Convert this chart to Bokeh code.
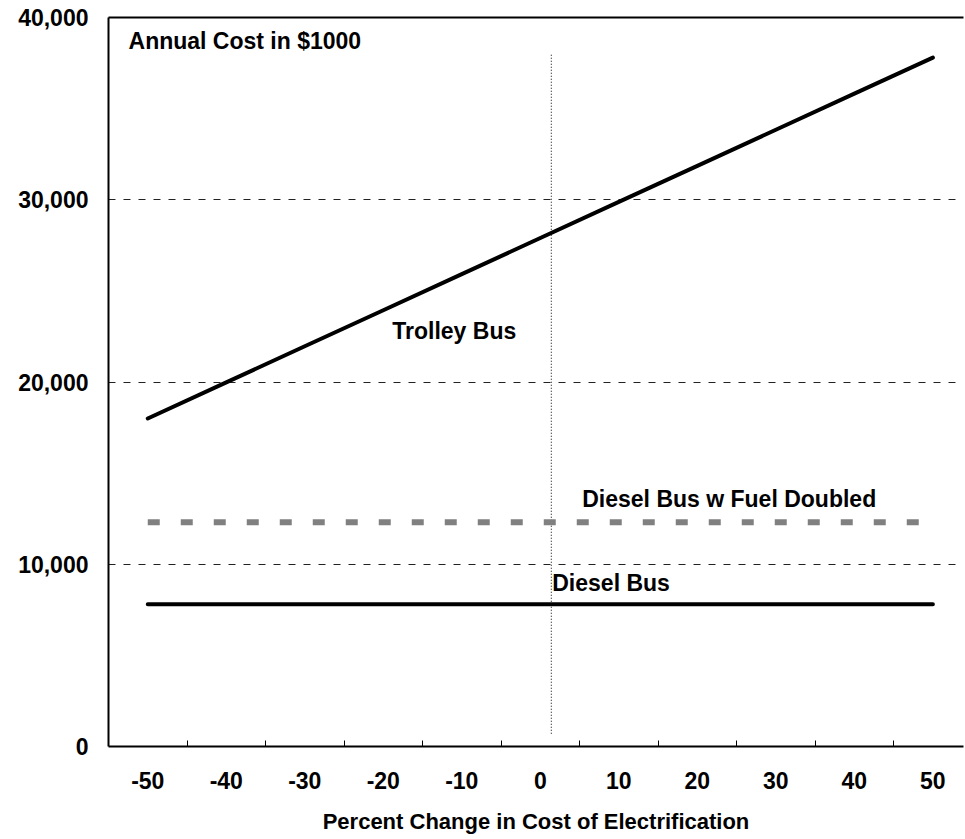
from bokeh.plotting import figure
from bokeh.models import Range1d, FixedTicker, LinearAxis, NumeralTickFormatter
from bokeh.core.properties import value
from bokeh.embed import file_html
from bokeh.resources import INLINE

# ---- data ----
pct_change = [-50, -40, -30, -20, -10, 0, 10, 20, 30, 40, 50]
trolley_bus = [18000, 19980, 21960, 23940, 25920, 27900, 29880, 31860, 33840, 35820, 37800]
diesel_bus = [7800, 7800, 7800, 7800, 7800, 7800, 7800, 7800, 7800, 7800, 7800]
diesel_fuel_doubled = [12300, 12300, 12300, 12300, 12300, 12300, 12300, 12300, 12300, 12300, 12300]
pct_labels = ["-50", "-40", "-30", "-20", "-10", "0", "10", "20", "30", "40", "50"]
y_ticks = [0, 10000, 20000, 30000, 40000]
grid_values = [10000, 20000, 30000]
reference_pct = 1.4
reference_span = [700, 38000]

FONT = value("Liberation Sans")

p = figure(width=965, height=839,
           x_range=Range1d(-55, 53.9), y_range=Range1d(0, 40000),
           output_backend="svg", toolbar_location=None,
           min_border_left=108, min_border_right=2,
           min_border_top=17, min_border_bottom=93)

p.background_fill_color = "white"
p.border_fill_color = "white"
p.outline_line_color = None

# x axis: labels at categories, tick marks between categories
between = [(a + b) / 2 for a, b in zip(pct_change[:-1], pct_change[1:])]
xa = p.xaxis[0]
xa.ticker = FixedTicker(ticks=pct_change, minor_ticks=between)
xa.major_label_overrides = {v: s for v, s in zip(pct_change, pct_labels)}
xa.major_tick_in = 0
xa.major_tick_out = 0
xa.minor_tick_in = 6
xa.minor_tick_out = 0
xa.minor_tick_line_color = "black"
xa.minor_tick_line_width = 1
xa.axis_line_width = 2
xa.axis_line_color = "black"
xa.major_label_standoff = 25
xa.major_label_text_font = "Liberation Sans"
xa.major_label_text_font_style = "bold"
xa.major_label_text_font_size = "23px"
xa.major_label_text_color = "black"
xa.axis_label = "Percent Change in Cost of Electrification"
xa.axis_label_text_font = "Liberation Sans"
xa.axis_label_text_font_style = "bold"
xa.axis_label_text_font_size = "22px"
xa.axis_label_text_color = "black"
xa.axis_label_standoff = 17

ya = p.yaxis[0]
ya.ticker = FixedTicker(ticks=y_ticks)
ya.formatter = NumeralTickFormatter(format="0,0")
ya.major_tick_in = 0
ya.major_tick_out = 0
ya.minor_tick_in = 0
ya.minor_tick_out = 0
ya.axis_line_width = 2
ya.axis_line_color = "black"
ya.major_label_standoff = 20
ya.major_label_text_font = "Liberation Sans"
ya.major_label_text_font_style = "bold"
ya.major_label_text_font_size = "23px"
ya.major_label_text_color = "black"

# top border line
top = LinearAxis(ticker=FixedTicker(ticks=[]), major_tick_in=0, major_tick_out=0,
                 minor_tick_in=0, minor_tick_out=0, major_label_text_font_size="0px",
                 axis_line_width=2, axis_line_color="black")
p.add_layout(top, "above")

p.xgrid.visible = False
p.ygrid.ticker = FixedTicker(ticks=grid_values)
p.ygrid.grid_line_color = "#222222"
p.ygrid.grid_line_width = 1
p.ygrid.grid_line_dash = "7 8"

# reference vertical dotted line
p.line(x=[reference_pct, reference_pct], y=reference_span,
       line_color="black", line_width=1, line_dash="1 2")

# series
p.line(x=pct_change, y=diesel_fuel_doubled, line_color="#808080", line_width=6,
       line_dash="12 21", line_cap="butt")
p.line(x=pct_change, y=diesel_bus, line_color="black", line_width=4, line_cap="round")
p.line(x=pct_change, y=trolley_bus, line_color="black", line_width=4, line_cap="round")

# annotations
def label(x, y, t):
    p.text(x=[x], y=[y], text=[t], text_font=FONT, text_font_style="bold",
           text_font_size="23px", text_color="black",
           text_align="left", text_baseline="middle")

label(-52.45, 38700, "Annual Cost in $1000")
label(-18.86, 22800, "Trolley Bus")
label(5.34, 13580, "Diesel Bus w Fuel Doubled")
label(1.52, 8960, "Diesel Bus")

open("out.html", "w").write(file_html(p, INLINE))
